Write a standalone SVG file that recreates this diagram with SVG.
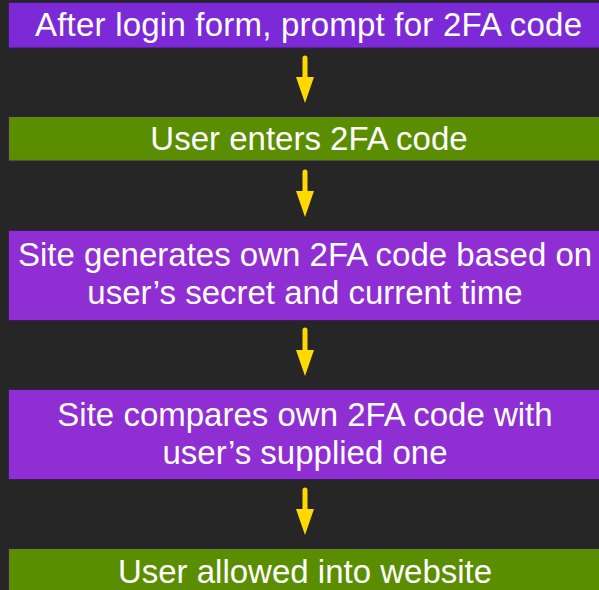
<svg xmlns="http://www.w3.org/2000/svg" width="599" height="590" viewBox="0 0 599 590">
  <style>
    .box { stroke: #3a1c5c; stroke-width: 1; }
    .p1 { fill: #7c2ad7; }
    .p2 { fill: #8f2ed2; }
    .g { fill: #5a8e00; }
    .label { font-family: "Helvetica Neue", "Liberation Sans", Arial, sans-serif; font-size: 33px; fill: #ffffff; text-anchor: middle; }
    .shaft { stroke: #ffd900; stroke-width: 5; stroke-linecap: round; fill: none; }
  </style>
  <defs>
    <marker id="head" markerUnits="userSpaceOnUse" markerWidth="28" markerHeight="20" refX="0" refY="9" orient="auto" viewBox="0 0 28 18" overflow="visible">
      <path d="M0,0 L26,9 L0,18 z" fill="#ffd900"/>
    </marker>
  </defs>
  <rect x="0" y="0" width="599" height="590" fill="#262626"/>

  <g id="node1">
    <rect class="box p1" x="8.5" y="2.5" width="600" height="45.5"/>
    <text class="label" x="308.5" y="36" textLength="547" lengthAdjust="spacing">After login form, prompt for 2FA code</text>
  </g>
  <g id="node2">
    <rect class="box g" x="8.5" y="116.5" width="600" height="44.5"/>
    <text class="label" x="309" y="150">User enters 2FA code</text>
  </g>
  <g id="node3">
    <rect class="box p2" x="8.5" y="230.5" width="600" height="90"/>
    <text class="label" x="305" y="266">Site generates own 2FA code based on</text>
    <text class="label" x="305" y="304">user’s secret and current time</text>
  </g>
  <g id="node4">
    <rect class="box p2" x="8.5" y="389.5" width="600" height="90"/>
    <text class="label" x="305" y="426">Site compares own 2FA code with</text>
    <text class="label" x="305" y="464">user’s supplied one</text>
  </g>
  <g id="node5">
    <rect class="box g" x="8.5" y="548.5" width="600" height="50"/>
    <text class="label" x="305" y="583">User allowed into website</text>
  </g>

  <g id="connectors">
    <path class="shaft" d="M305,58 L305,77" marker-end="url(#head)"/>
    <path class="shaft" d="M305,172 L305,191" marker-end="url(#head)"/>
    <path class="shaft" d="M305,330 L305,350" marker-end="url(#head)"/>
    <path class="shaft" d="M305,490 L305,509" marker-end="url(#head)"/>
  </g>
</svg>
